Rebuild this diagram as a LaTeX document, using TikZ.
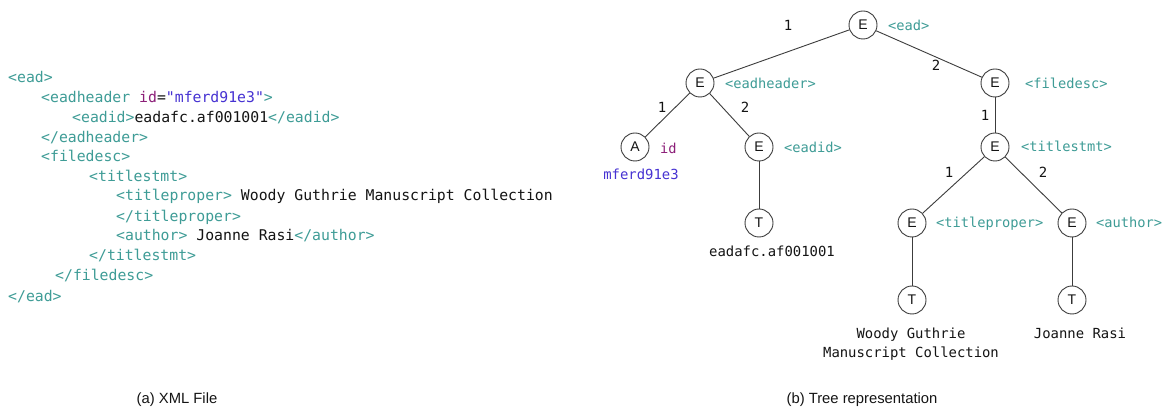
\documentclass[tikz,border=0pt]{standalone}
\usepackage{fontspec}
\newfontfamily\mono{DejaVu Sans Mono}
\newfontfamily\helv{Liberation Sans}
\definecolor{tagc}{RGB}{62,156,150}
\definecolor{attr}{RGB}{140,30,120}
\definecolor{val}{RGB}{70,50,210}
\definecolor{linec}{RGB}{60,60,60}
\definecolor{txt}{RGB}{20,20,20}
\newcommand\tg[1]{\textcolor{tagc}{#1}}
\tikzset{
  xml/.style={anchor=base west, inner sep=0pt, text=txt, font=\mono\fontsize{14.8}{18}\selectfont},
  tn/.style={circle, draw=linec, line width=0.9pt, minimum size=28pt, inner sep=0pt, text=txt, font=\helv\fontsize{14}{16}\selectfont},
  edge/.style={draw=linec, line width=0.9pt},
  lab/.style={anchor=base west, inner sep=0pt, text=tagc, font=\mono\fontsize{13.7}{16}\selectfont},
  content/.style={anchor=base, inner sep=0pt, text=txt, font=\mono\fontsize{13.9}{16}\selectfont},
  num/.style={anchor=base, inner sep=0pt, text=txt, font=\mono\fontsize{14}{16}\selectfont},
  caption/.style={anchor=base, inner sep=0pt, text=txt, font=\helv\fontsize{14.8}{17}\selectfont}
}
\begin{document}
\begin{tikzpicture}[x=1pt,y=-1pt]
\useasboundingbox (0,0) rectangle (1163,411);
\fill[white] (0,0) rectangle (1163,411);
% XML file
\node[xml] (l1) at (8,83) {\tg{<ead>}};
\node[xml] (l2) at (41,103) {\tg{<eadheader }\textcolor{attr}{id}=\textcolor{val}{"mferd91e3"}\tg{>}};
\node[xml] (l3) at (72,123) {\tg{<eadid>}eadafc.af001001\tg{</eadid>}};
\node[xml] (l4) at (41,143) {\tg{</eadheader>}};
\node[xml] (l5) at (41,162) {\tg{<filedesc>}};
\node[xml] (l6) at (89,182) {\tg{<titlestmt>}};
\node[xml] (l7) at (116,201) {\tg{<titleproper>} Woody Guthrie Manuscript Collection};
\node[xml] (l8) at (116,222) {\tg{</titleproper>}};
\node[xml] (l9) at (116,241) {\tg{<author>} Joanne Rasi\tg{</author>}};
\node[xml] (l10) at (89,261) {\tg{</titlestmt>}};
\node[xml] (l11) at (55,281) {\tg{</filedesc>}};
\node[xml] (l12) at (8,302) {\tg{</ead>}};
% Tree nodes
\node[tn] (r) at (863,25) {E};
\node[tn] (eh) at (700,83) {E};
\node[tn] (fd) at (995,83) {E};
\node[tn] (a) at (635,147) {A};
\node[tn] (ei) at (759,147) {E};
\node[tn] (ts) at (995,147) {E};
\node[tn] (t1) at (759,223) {T};
\node[tn] (tp) at (912,223) {E};
\node[tn] (au) at (1072,223) {E};
\node[tn] (t2) at (912,300) {T};
\node[tn] (t3) at (1072,300) {T};
% Edges
\draw[edge] (r) -- (eh);
\draw[edge] (r) -- (fd);
\draw[edge] (eh) -- (a);
\draw[edge] (eh) -- (ei);
\draw[edge] (fd) -- (ts);
\draw[edge] (ei) -- (t1);
\draw[edge] (ts) -- (tp);
\draw[edge] (ts) -- (au);
\draw[edge] (tp) -- (t2);
\draw[edge] (au) -- (t3);
% Edge numbers
\node[num] (n1) at (788,31) {1};
\node[num] (n2) at (936,71) {2};
\node[num] (n3) at (662,113) {1};
\node[num] (n4) at (745,113) {2};
\node[num] (n5) at (985,121) {1};
\node[num] (n6) at (949,178) {1};
\node[num] (n7) at (1043,178) {2};
% Tag labels
\node[lab] (lr) at (888,31) {<ead>};
\node[lab] (leh) at (725,89) {<eadheader>};
\node[lab] (lfd) at (1025,89) {<filedesc>};
\node[lab,text=attr] (lid) at (660,154) {id};
\node[lab] (lei) at (784,153) {<eadid>};
\node[lab] (lts) at (1021,152) {<titlestmt>};
\node[lab] (ltp) at (936,228) {<titleproper>};
\node[lab] (lau) at (1096,228) {<author>};
% Content
\node[content,text=val] (cid) at (641,180) {mferd91e3};
\node[content] (c1) at (772,257) {eadafc.af001001};
\node[content] (c2a) at (911,339) {Woody Guthrie};
\node[content] (c2b) at (911,358) {Manuscript Collection};
\node[content] (c3) at (1080,339) {Joanne Rasi};
% Captions
\node[caption] (capa) at (177,404) {(a) XML File};
\node[caption] (capb) at (862,404) {(b) Tree representation};
\end{tikzpicture}
\end{document}
